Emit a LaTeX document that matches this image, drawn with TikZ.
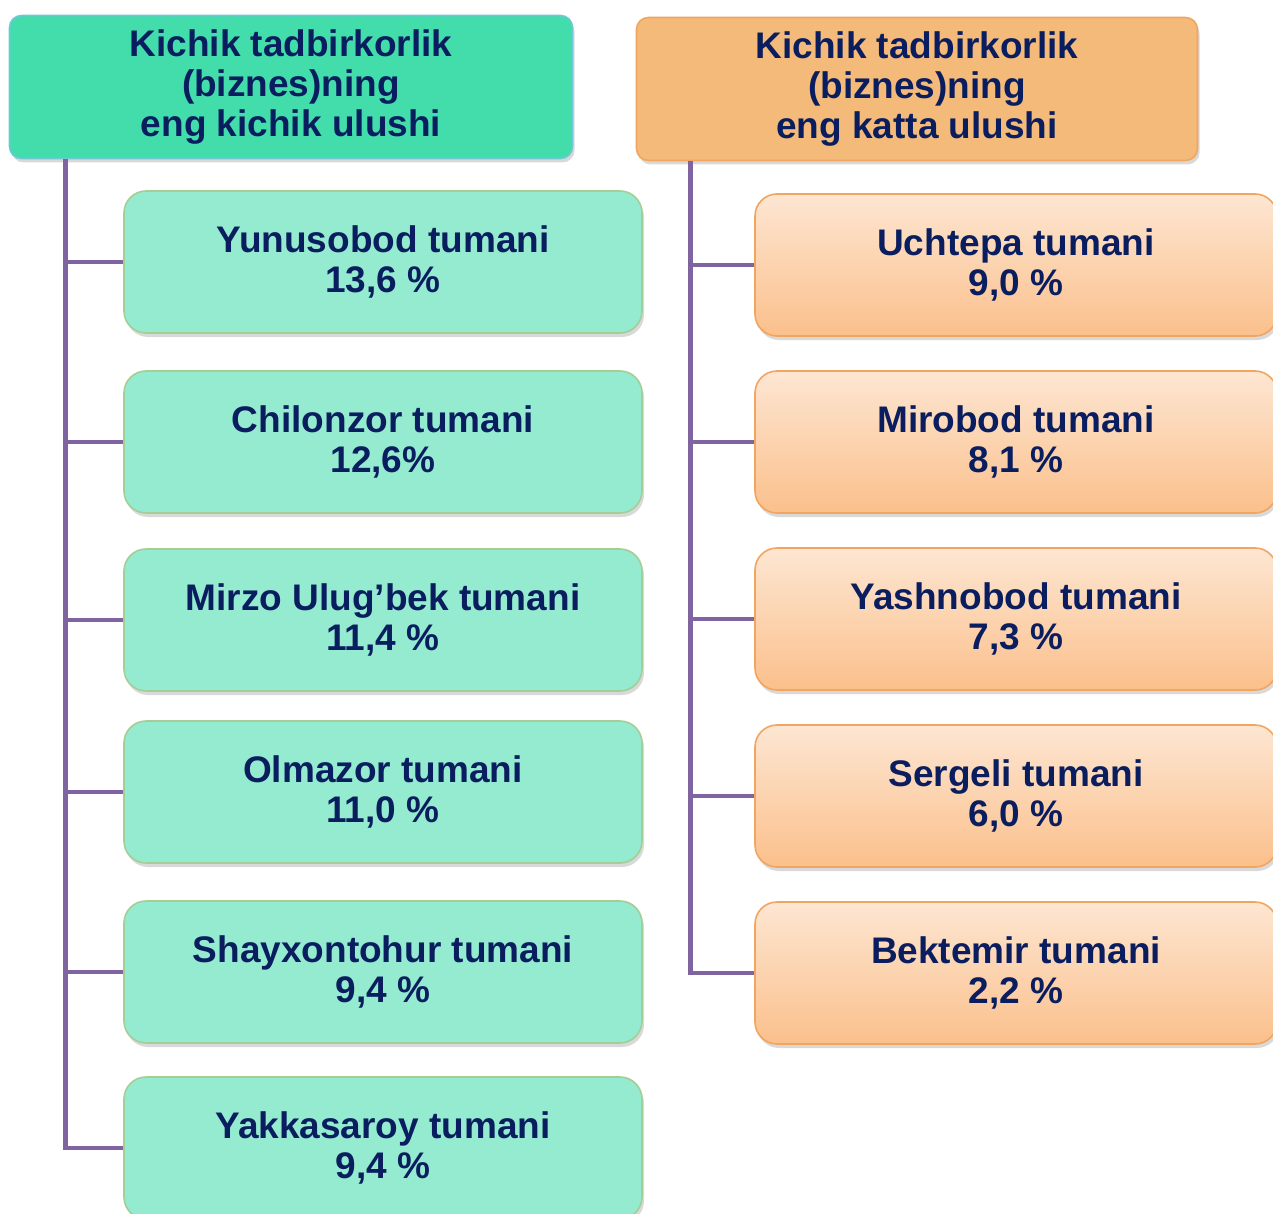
\documentclass[tikz,border=0pt]{standalone}
\usepackage{fontspec}
\setmainfont{Liberation Sans}
\usepackage{xcolor}
\definecolor{navytext}{RGB}{10,30,95}
\definecolor{spinepurple}{RGB}{128,100,162}
\definecolor{mintdark}{RGB}{66,221,170}
\definecolor{mintlight}{RGB}{148,235,207}
\definecolor{mintedge}{RGB}{165,205,150}
\definecolor{headedge}{RGB}{110,200,215}
\definecolor{orangehead}{RGB}{244,186,122}
\definecolor{orangeedge}{RGB}{242,165,95}
\definecolor{peachtop}{RGB}{253,230,210}
\definecolor{peachbot}{RGB}{251,192,140}
\usetikzlibrary{shadows}

\begin{document}
\begin{tikzpicture}[x=1pt, y=-1pt,
  box/.style={inner sep=0pt, align=center, text=navytext,
    font=\fontsize{37}{40}\selectfont\bfseries, line width=1.6pt,
    drop shadow={opacity=0.3, shadow xshift=2pt, shadow yshift=-4pt}},
  headbox/.style={box, rounded corners=12pt, minimum width=563pt, minimum height=143pt},
  itembox/.style={box, rounded corners=22pt, minimum width=518pt, minimum height=142pt},
  spine/.style={spinepurple, line width=4.5pt}]

\useasboundingbox (0,0) rectangle (1273,1214);

% headers
\node[headbox, fill=mintdark, draw=headedge] (hL) at (291,87)
  {Kichik tadbirkorlik\\(biznes)ning\\eng kichik ulushi};
\node[headbox, fill=orangehead, draw=orangeedge, minimum width=561pt] (hR) at (917,89)
  {Kichik tadbirkorlik\\(biznes)ning\\eng katta ulushi};

% --- left column: smallest share ---
\foreach \n/\y/\name/\val in {1/262/{Yunusobod tumani}/{13,6 \%},
                              2/442/{Chilonzor tumani}/{12,6\%},
                              3/620/{Mirzo Ulug’bek tumani}/{11,4 \%},
                              4/792/{Olmazor tumani}/{11,0 \%},
                              5/972/{Shayxontohur tumani}/{9,4 \%},
                              6/1148/{Yakkasaroy tumani}/{9,4 \%}} {
  \node[itembox, fill=mintlight, draw=mintedge] (cL\n) at (383,\y) {\name\\\val};
  \draw[spine] ([xshift=57pt]hL.south west) |- (cL\n.west);
}

% --- right column: largest share ---
\foreach \n/\y/\name/\val in {1/265/{Uchtepa tumani}/{9,0 \%},
                              2/442/{Mirobod tumani}/{8,1 \%},
                              3/619/{Yashnobod tumani}/{7,3 \%},
                              4/796/{Sergeli tumani}/{6,0 \%},
                              5/973/{Bektemir tumani}/{2,2 \%}} {
  \node[itembox, top color=peachtop, bottom color=peachbot, draw=orangeedge,
        minimum width=522pt] (cR\n) at (1016,\y) {\name\\\val};
  \draw[spine] ([xshift=55pt]hR.south west) |- (cR\n.west);
}

\end{tikzpicture}
\end{document}
